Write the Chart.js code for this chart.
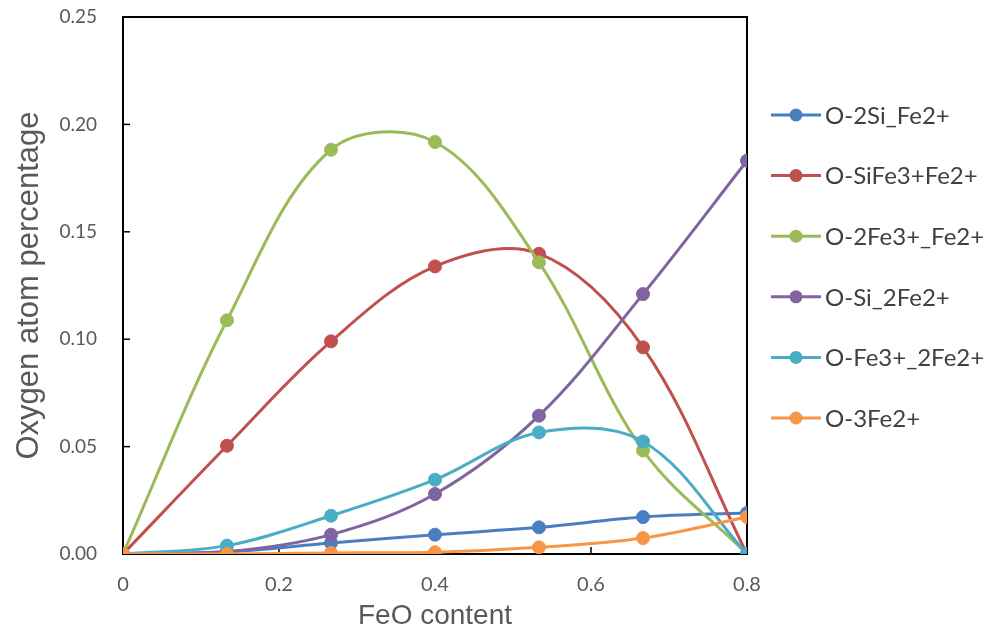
<!DOCTYPE html>
<html>
<head>
<meta charset="utf-8">
<script src="https://cdn.jsdelivr.net/npm/chart.js@4/dist/chart.umd.min.js"></script>
<style>
	html, body { margin: 0; padding: 0; background: #fff; }
	#contenedor { width: 983px; height: 636px; }
</style>
</head>
<body>
<div id="contenedor"><canvas id="grafico_feo_canvas"></canvas></div>
<script>
//Datos
const contenidoFeO = [0, 0.1333, 0.2667, 0.4, 0.5333, 0.6667, 0.8]
const nombresSeries = ['O-2Si_Fe2+', 'O-SiFe3+Fe2+', 'O-2Fe3+_Fe2+', 'O-Si_2Fe2+', 'O-Fe3+_2Fe2+', 'O-3Fe2+']
const o2SiFe2 = [0, 0.001, 0.0051, 0.009, 0.0124, 0.0172, 0.0191]
const oSiFe3Fe2 = [0, 0.0504, 0.099, 0.1339, 0.1398, 0.0962, 0]
const o2Fe3Fe2 = [0, 0.1088, 0.1882, 0.1918, 0.1358, 0.0482, 0]
const oSi2Fe2 = [0, 0.001, 0.009, 0.0279, 0.0644, 0.121, 0.1831]
const oFe32Fe2 = [0, 0.0039, 0.0178, 0.0346, 0.0566, 0.0524, 0]
const o3Fe2 = [0, 0, 0.0005, 0.0008, 0.0031, 0.0074, 0.0172]
const ticksX = [0, 0.2, 0.4, 0.6, 0.8]
const ticksY = [0, 0.05, 0.1, 0.15, 0.2, 0.25]

const valoresSeries = [o2SiFe2, oSiFe3Fe2, o2Fe3Fe2, oSi2Fe2, oFe32Fe2, o3Fe2]
const coloresSeries = [
	'74, 126, 193',
	'192, 80, 77',
	'155, 187, 89',
	'128, 100, 162',
	'75, 172, 198',
	'247, 150, 70'
]

//Marco, marcas interiores y leyenda
const marcoGrafico = {
	id: 'marcoGrafico',
	beforeDatasetsDraw(chart) {
		const {ctx, chartArea, scales} = chart
		ctx.save()
		ctx.strokeStyle = '#000'
		ctx.lineWidth = 1.5
		ticksX.slice(1, -1).forEach(v => {
			const px = scales.x.getPixelForValue(v)
			ctx.beginPath()
			ctx.moveTo(px, chartArea.bottom)
			ctx.lineTo(px, chartArea.bottom - 7)
			ctx.stroke()
		})
		ticksY.slice(1, -1).forEach(v => {
			const py = scales.y.getPixelForValue(v)
			ctx.beginPath()
			ctx.moveTo(chartArea.left, py)
			ctx.lineTo(chartArea.left + 7, py)
			ctx.stroke()
		})
		ctx.lineWidth = 2
		ctx.strokeRect(chartArea.left, chartArea.top, chartArea.right - chartArea.left, chartArea.bottom - chartArea.top)
		ctx.restore()
	},
	afterDraw(chart) {
		const ctx = chart.ctx
		const x0 = chart.chartArea.right + 24
		ctx.save()
		ctx.font = '24px Lato'
		ctx.textBaseline = 'middle'
		nombresSeries.forEach((nombre, i) => {
			const y = 115 + i * 60.6
			ctx.strokeStyle = `rgba(${coloresSeries[i]}, 1)`
			ctx.fillStyle = `rgba(${coloresSeries[i]}, 1)`
			ctx.lineWidth = 3
			ctx.beginPath()
			ctx.moveTo(x0, y)
			ctx.lineTo(x0 + 50, y)
			ctx.stroke()
			ctx.beginPath()
			ctx.arc(x0 + 25, y, 6.5, 0, Math.PI * 2)
			ctx.fill()
			ctx.fillStyle = '#404040'
			ctx.fillText(nombre, x0 + 54, y + 1)
		})
		ctx.restore()
	}
}

const generarGraficoFeO = () => {
	let graficoCanvas = document.getElementById('grafico_feo_canvas')
	let lineChart = new Chart(graficoCanvas, {
		type: 'line',
		data: {
			datasets: nombresSeries.map((nombre, i) => ({
				label: nombre,
				data: contenidoFeO.map((x, j) => ({ x: x, y: valoresSeries[i][j] })),
				borderColor: `rgba(${coloresSeries[i]}, 1)`,
				backgroundColor: `rgba(${coloresSeries[i]}, 1)`,
				pointBackgroundColor: `rgba(${coloresSeries[i]}, 1)`,
				borderWidth: 3,
				pointRadius: 6.5,
				pointBorderWidth: 1,
				tension: 0.35,
				order: nombresSeries.length - i
			}))
		},
		options: {
			responsive: true,
			maintainAspectRatio: false,
			animation: false,
			layout: { padding: { top: 17, right: 236, bottom: 0, left: 0 } },
			plugins: {
				legend: { display: false },
				tooltip: { enabled: false }
			},
			scales: {
				x: {
					type: 'linear',
					min: 0,
					max: 0.8,
					afterBuildTicks: scale => { scale.ticks = ticksX.map(v => ({ value: v })) },
					afterFit: scale => {
						scale.height = 82
						scale.paddingLeft = 0
						scale.paddingRight = 0
					},
					ticks: {
						padding: 19,
						color: '#595959',
						font: { family: 'Lato', size: 20 },
						callback: v => v === 0 ? '0' : v.toFixed(1)
					},
					grid: { drawOnChartArea: false, drawTicks: false },
					border: { display: false },
					title: {
						display: true,
						text: 'FeO content',
						color: '#595959',
						font: { family: 'Liberation Sans', size: 28 },
						padding: { top: 0, bottom: 3 }
					}
				},
				y: {
					min: 0,
					max: 0.25,
					afterBuildTicks: scale => { scale.ticks = ticksY.map(v => ({ value: v })) },
					afterFit: scale => {
						scale.width = 123
						scale.paddingTop = 0
						scale.paddingBottom = 0
					},
					ticks: {
						padding: 26,
						color: '#595959',
						font: { family: 'Lato', size: 19 },
						callback: v => v.toFixed(2)
					},
					grid: { drawOnChartArea: false, drawTicks: false },
					border: { display: false },
					title: {
						display: true,
						text: 'Oxygen atom percentage',
						color: '#595959',
						font: { family: 'Liberation Sans', size: 31 },
						padding: { top: 11, bottom: 0 }
					}
				}
			}
		},
		plugins: [marcoGrafico]
	})
}

generarGraficoFeO()
</script>
</body>
</html>
